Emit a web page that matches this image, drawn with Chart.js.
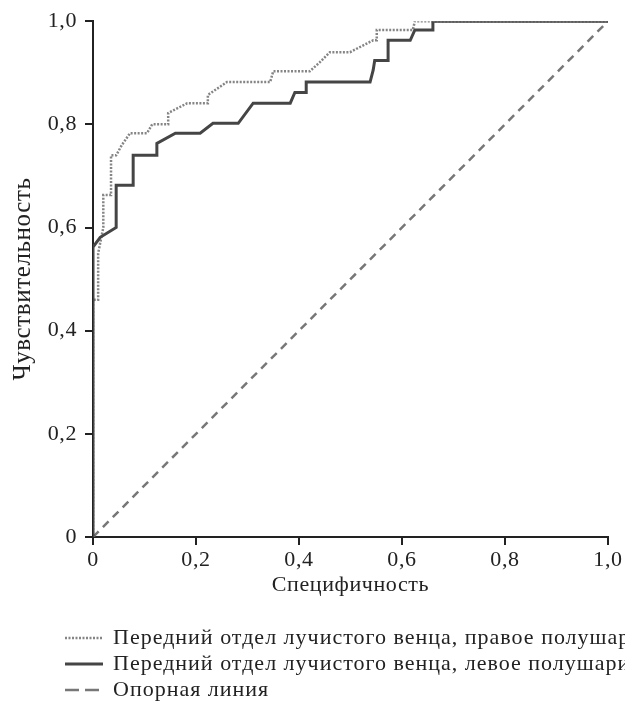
<!DOCTYPE html>
<html><head><meta charset="utf-8">
<script src="https://cdn.jsdelivr.net/npm/chart.js@4.4.1/dist/chart.umd.min.js"></script>
<style>html,body{margin:0;padding:0;background:#fff;}#wrap{width:625px;height:712px;}</style>
</head><body><div id="wrap"><canvas id="c" width="625" height="712"></canvas></div>
<script>
const rightLabel = 'Передний отдел лучистого венца, правое полушарие';
const leftLabel = 'Передний отдел лучистого венца, левое полушарие';
const refLabel = 'Опорная линия';
const xTitle = 'Специфичность';
const yTitle = 'Чувствительность';
const tickValues = [0, 0.2, 0.4, 0.6, 0.8, 1.0];

const rightX = [0,0,0.01,0.01,0.02,0.02,0.035,0.035,0.045,0.056,0.072,0.105,0.115,0.146,0.146,0.183,0.223,0.223,0.26,0.344,0.35,0.421,0.44,0.46,0.499,0.544,0.551,0.551,0.621,0.625,1.0];
const rightY = [0,0.46,0.46,0.55,0.60,0.663,0.663,0.74,0.74,0.76,0.783,0.783,0.80,0.80,0.822,0.841,0.841,0.857,0.882,0.882,0.903,0.903,0.92,0.94,0.94,0.963,0.963,0.983,0.983,1.0,1.0];

const leftX = [0,0,0.014,0.045,0.045,0.078,0.078,0.124,0.124,0.16,0.208,0.233,0.282,0.311,0.383,0.392,0.414,0.414,0.538,0.544,0.547,0.573,0.573,0.616,0.625,0.66,0.66,1.0];
const leftY = [0,0.562,0.581,0.60,0.682,0.682,0.74,0.74,0.763,0.783,0.783,0.802,0.802,0.841,0.841,0.862,0.862,0.882,0.882,0.905,0.924,0.924,0.963,0.963,0.983,0.983,1.0,1.0];

const refX = [0, 1];
const refY = [0, 1];

const pts = (xs, ys) => xs.map((x, i) => ({x, y: ys[i]}));
const fmt = v => v === 0 ? '0' : v.toFixed(1).replace('.', ',');
const FONT = "'Liberation Serif', 'DejaVu Serif', serif";

const spacingPlugin = {
  id: 'spacing',
  beforeLayout(chart) { chart.ctx.letterSpacing = '0.6px'; },
  beforeDraw(chart) { chart.ctx.letterSpacing = '0.6px'; }
};

const legendPlugin = {
  id: 'customLegend',
  afterDraw(chart) {
    const ctx = chart.ctx;
    const ds = chart.data.datasets;
    const order = [ds[1], ds[0], ds[2]];
    const ys = [638, 664, 690];
    ctx.save();
    order.forEach((d, i) => {
      const y = ys[i];
      ctx.beginPath();
      ctx.strokeStyle = d.borderColor;
      ctx.lineWidth = d.borderWidth;
      ctx.setLineDash(d.legendDash || []);
      ctx.moveTo(65, y);
      ctx.lineTo(103, y);
      ctx.stroke();
      ctx.setLineDash([]);
      ctx.fillStyle = '#222';
      ctx.font = '22px ' + FONT;
      ctx.letterSpacing = '1px';
      ctx.textBaseline = 'middle';
      ctx.textAlign = 'left';
      ctx.fillText(d.label, 113, y);
    });
    ctx.restore();
  }
};

new Chart(document.getElementById('c'), {
  type: 'line',
  data: {
    datasets: [
      {label: leftLabel, data: pts(leftX, leftY), borderColor: '#454545', borderWidth: 3, pointRadius: 0, fill: false, tension: 0},
      {label: rightLabel, data: pts(rightX, rightY), borderColor: '#858585', borderWidth: 2.5, borderDash: [2, 1.5], legendDash: [2, 1.5], pointRadius: 0, fill: false, tension: 0},
      {label: refLabel, data: pts(refX, refY), borderColor: '#777', borderWidth: 2.5, borderDash: [8, 6], legendDash: [14, 6], pointRadius: 0, fill: false, tension: 0}
    ]
  },
  options: {
    responsive: false,
    animation: false,
    devicePixelRatio: 1,
    layout: {padding: {left: 0, right: 17, top: 21, bottom: 110}},
    plugins: {legend: {display: false}, tooltip: {enabled: false}},
    scales: {
      x: {
        type: 'linear', min: 0, max: 1,
        afterBuildTicks: s => { s.ticks = tickValues.map(v => ({value: v})); },
        afterFit: s => { s.height = 65; },
        ticks: {callback: v => fmt(v), color: '#222', font: {family: FONT, size: 22}, padding: 2, maxRotation: 0},
        grid: {drawOnChartArea: false, drawTicks: true, tickLength: 8, color: '#222', lineWidth: 2},
        border: {display: true, color: '#222', width: 2},
        title: {display: true, text: xTitle, color: '#222', font: {family: FONT, size: 22}, padding: {top: 0, bottom: 4}}
      },
      y: {
        type: 'linear', min: 0, max: 1,
        afterBuildTicks: s => { s.ticks = tickValues.map(v => ({value: v})); },
        afterFit: s => { s.width = 93; },
        ticks: {callback: v => fmt(v), color: '#222', font: {family: FONT, size: 22}, padding: 8},
        grid: {drawOnChartArea: false, drawTicks: true, tickLength: 8, color: '#222', lineWidth: 2},
        border: {display: true, color: '#222', width: 2},
        title: {display: true, text: yTitle, color: '#222', font: {family: FONT, size: 25}, padding: {top: 8, bottom: 0}}
      }
    }
  },
  plugins: [spacingPlugin, legendPlugin]
});
</script>
</body></html>
